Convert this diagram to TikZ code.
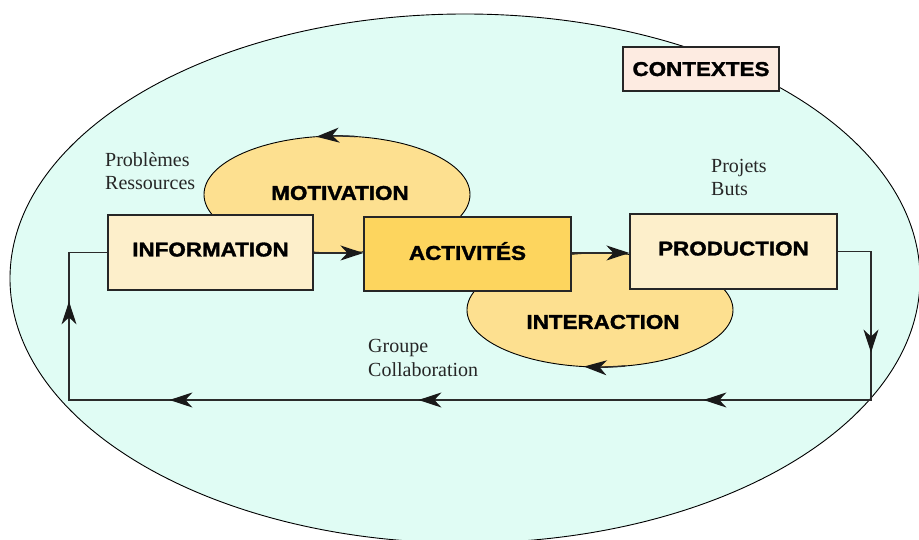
\documentclass[tikz,border=0pt]{standalone}
\usepackage{fontspec}
\setmainfont{Liberation Serif}
\newfontfamily\lblfont[FakeStretch=1.12, BoldFeatures={FakeBold=1.6}]{Liberation Sans}
\usetikzlibrary{arrows.meta,decorations.markings,shapes.geometric,calc}
\definecolor{mint}{HTML}{E0FCF4}
\definecolor{cream}{HTML}{FDEFCB}
\definecolor{gold}{HTML}{FDD55E}
\definecolor{sand}{HTML}{FDE090}
\definecolor{pinkish}{HTML}{FDEBE1}
\definecolor{linegray}{HTML}{2B2B2B}
\begin{document}
\begin{tikzpicture}[x=1pt,y=1pt,
  tipshape/.tip={Stealth[length=23pt,width=15pt,inset=7pt,color=black!90]},
  conn/.style={draw=linegray, line width=1.5pt},
  tipped/.style={conn, -{tipshape}},
  lbl/.style={font=\lblfont\bfseries\fontsize{20}{24}\selectfont, inner sep=0pt, text=black},
  box/.style={draw=black!85, line width=1.2pt, font=\lblfont\bfseries\fontsize{20}{24}\selectfont, text depth=6pt, inner sep=0pt},
  oval/.style={ellipse, draw=black, line width=0.9pt, fill=sand, inner sep=0pt},
  note/.style={font=\fontsize{20}{23}\selectfont, text=black!85, inner sep=0pt, anchor=base west}
]
\useasboundingbox (0,0) rectangle (919,540);
\fill[white] (0,0) rectangle (919,540);
\clip (0,0) rectangle (919,540);
% context ellipse
\draw[fill=mint, line width=0.9pt] (465,261.5) ellipse [x radius=455pt, y radius=264.5pt];
% inner ellipses
\node[oval, minimum width=266pt, minimum height=117pt] (mot) at (337,345.5) {};
\node[oval, minimum width=266pt, minimum height=114pt] (int) at (600,230) {};
\draw[tipped] ($(mot.center)+(82:133pt and 58.5pt)$) arc[start angle=82, end angle=99, x radius=133pt, y radius=58.5pt];
\draw[tipped] ($(int.center)+(281:133pt and 57pt)$) arc[start angle=281, end angle=263, x radius=133pt, y radius=57pt];
\node[lbl] (motl) at (340,347) {MOTIVATION};
\node[lbl] (intl) at (603,218) {INTERACTION};
% boxes
\node[box, fill=cream, minimum width=205pt, minimum height=75pt] (info) at (210.5,287.5) {INFORMATION};
\node[box, fill=gold, minimum width=207pt, minimum height=74pt] (act) at (467.5,286) {ACTIVITÉS};
\node[box, fill=cream, minimum width=207pt, minimum height=75pt] (prod) at (733.5,288.5) {PRODUCTION};
\node[box, fill=pinkish, text depth=0pt, minimum width=156pt, minimum height=44pt] (ctx) at (701,471) {CONTEXTES};
% connectors
\coordinate (ia) at (info.east |- 0,287);
\coordinate (ap) at (act.east |- 0,287);
\draw[tipped] (ia) -- (ia -| act.west);
\draw[tipped] (ap) -- (ap -| prod.west);
\coordinate (br) at (871,140);
\coordinate (bl) at (69,140);
\draw[conn, postaction={decorate}, decoration={markings,
   mark=at position 134.5pt with {\arrow{tipshape}},
   mark=at position 349.5pt with {\arrow{tipshape}},
   mark=at position 634.5pt with {\arrow{tipshape}},
   mark=at position 883.5pt with {\arrow{tipshape}},
   mark=at position 1082.5pt with {\arrow{tipshape}}}]
  (prod.east) -| (br) -- (bl) |- (info.west);
% notes
\node[note] (n1) at (105,373) {Problèmes};
\node[note] (n2) at (105,350) {Ressources};
\node[note] (n3) at (711,367) {Projets};
\node[note] (n4) at (711,344) {Buts};
\node[note] (n5) at (368,187) {Groupe};
\node[note] (n6) at (368,163) {Collaboration};
\end{tikzpicture}
\end{document}
